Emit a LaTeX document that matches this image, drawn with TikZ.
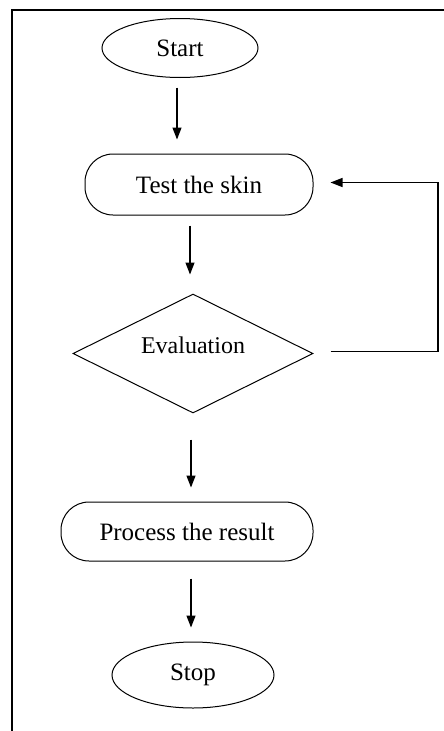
\documentclass[tikz,border=0pt]{standalone}
\usepackage{fontspec}
\setmainfont{Liberation Serif}
\usetikzlibrary{shapes.geometric,shapes.misc,arrows.meta}
\begin{document}
\begin{tikzpicture}[x=1pt,y=-1pt,
  every node/.style={font=\fontsize{25}{30}\selectfont, inner sep=0pt},
  oval/.style={draw, line width=1pt, ellipse},
  pill/.style={draw, line width=1pt, rectangle, rounded corners=28pt},
  decision/.style={draw, line width=1pt, diamond},
  arr/.style={line width=1.3pt, -{Triangle[length=12pt,width=9pt]}}]
\useasboundingbox (0,0) rectangle (444,731);
\draw[line width=2.5pt] (12,731) -- (12,9.5);
\draw[line width=1.6pt] (11,10) -- (444,10);

\node[oval, minimum width=156pt, minimum height=59pt] (start) at (180,48) {Start};
\node[pill, minimum width=228pt, minimum height=61pt] (test) at (199,184.5) {Test the skin};
\node[decision, minimum width=240pt, minimum height=119pt,
      label={[font=\fontsize{24}{28}\selectfont, yshift=8pt]center:Evaluation}] (dia) at (193,353.5) {};
\node[pill, minimum width=252pt, minimum height=59pt] (proc) at (187,531.5) {Process the result};
\node[oval, minimum width=162pt, minimum height=66pt] (stop) at (193,675) {Stop};

\coordinate (a1) at (177,0);
\coordinate (a2) at (190,0);
\coordinate (a3) at (191,0);
\coordinate (fb) at (438,0);

\draw[arr, shorten <=9.5pt, shorten >=14pt] (start.south -| a1) -- (test.north -| a1);
\draw[arr, shorten <=10pt, shorten >=19pt] (test.south -| a2) -- (dia.north -| a2);
\draw[arr, shorten <=26pt, shorten >=14pt] (dia.south -| a3) -- (proc.north -| a3);
\draw[arr, shorten <=17pt, shorten >=14pt] (proc.south -| a3) -- (stop.north -| a3);
\draw[arr, shorten <=17pt, shorten >=17pt] ([yshift=2pt]dia.east) -- ([yshift=2pt]dia.east -| fb) |- ([yshift=2pt]test.east);
\end{tikzpicture}
\end{document}
